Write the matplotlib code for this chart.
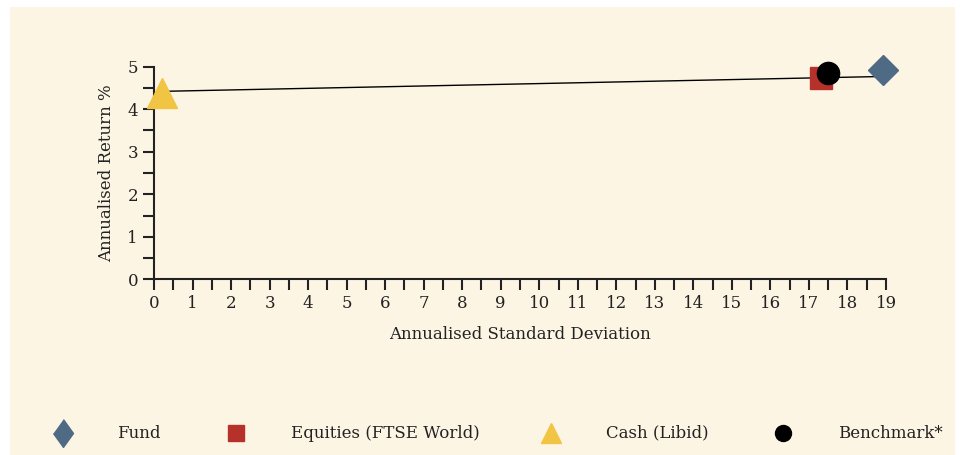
import matplotlib
matplotlib.use('Agg')
import matplotlib.pyplot as plt
from matplotlib.patches import Rectangle

# Data
names = ['Fund', 'Equities (FTSE World)', 'Cash (Libid)', 'Benchmark*']
std_dev = [18.92, 17.3, 0.2, 17.5]
returns = [4.93, 4.74, 4.39, 4.85]
colors = ['#4f6a84', '#b6312a', '#f1c443', '#000000']
markers = ['D', 's', '^', 'o']
sizes = [15.5, 16, 21, 16]

# trend line end points
line_x = [0.2, 18.9]
line_y = [4.42, 4.77]

bg = '#fdf5e4'
plt.rcParams['font.family'] = 'DejaVu Serif'

fig = plt.figure(figsize=(9.63, 4.55), dpi=100)
fig.patch.set_facecolor('white')
fig.patches.append(Rectangle((10 / 963, 0), 945 / 963, 448 / 455,
                             transform=fig.transFigure, facecolor=bg,
                             edgecolor='none', zorder=-10))

ax = fig.add_axes([154 / 963, 175.7 / 455, 732 / 963, 212.6 / 455])
ax.set_facecolor('none')
ax.plot(line_x, line_y, color='black', lw=1, zorder=2)
for x, y, c, m, s in zip(std_dev, returns, colors, markers, sizes):
    ax.plot(x, y, marker=m, color=c, markersize=s, linestyle='none',
            clip_on=False, zorder=3 if c != '#000000' else 4)

ax.set_xlim(0, 19)
ax.set_ylim(0, 5)
ax.set_xticks(range(20))
ax.set_xticks([i + 0.5 for i in range(19)], minor=True)
ax.set_yticks(range(6))
ax.set_yticks([i + 0.5 for i in range(5)], minor=True)
for s in ['top', 'right']:
    ax.spines[s].set_visible(False)
for s in ['left', 'bottom']:
    ax.spines[s].set_linewidth(1.5)
    ax.spines[s].set_color('#222222')
ax.tick_params(which='both', direction='out', width=1.5, color='#222222',
               labelsize=12, labelcolor='#222222')
ax.tick_params(which='major', length=8)
ax.tick_params(which='minor', length=8)
ax.set_xlabel('Annualised Standard Deviation', fontsize=12, color='#222222', labelpad=10)
ax.set_ylabel('Annualised Return %', fontsize=12, color='#222222', labelpad=9)

# legend row along the bottom
leg = fig.add_axes([0, 0, 1, 1])
leg.set_xlim(0, 963)
leg.set_ylim(455, 0)
leg.axis('off')
leg_marker_x = [63, 236, 551, 783]
leg_text_x = [117, 291, 606, 838]
leg_markers = [[(0, 1), (0.72, 0), (0, -1), (-0.72, 0)], 's', '^', 'o']
leg_sizes = [20, 11, 14.5, 11.5]
for mx, tx, name, c, m, s in zip(leg_marker_x, leg_text_x, names, colors, leg_markers, leg_sizes):
    leg.plot(mx, 433, marker=m, color=c, markersize=s, linestyle='none')
    leg.text(tx, 433, name, fontsize=12, color='#222222', va='center', ha='left')

fig.savefig('out.png', dpi=100, facecolor=fig.get_facecolor())
